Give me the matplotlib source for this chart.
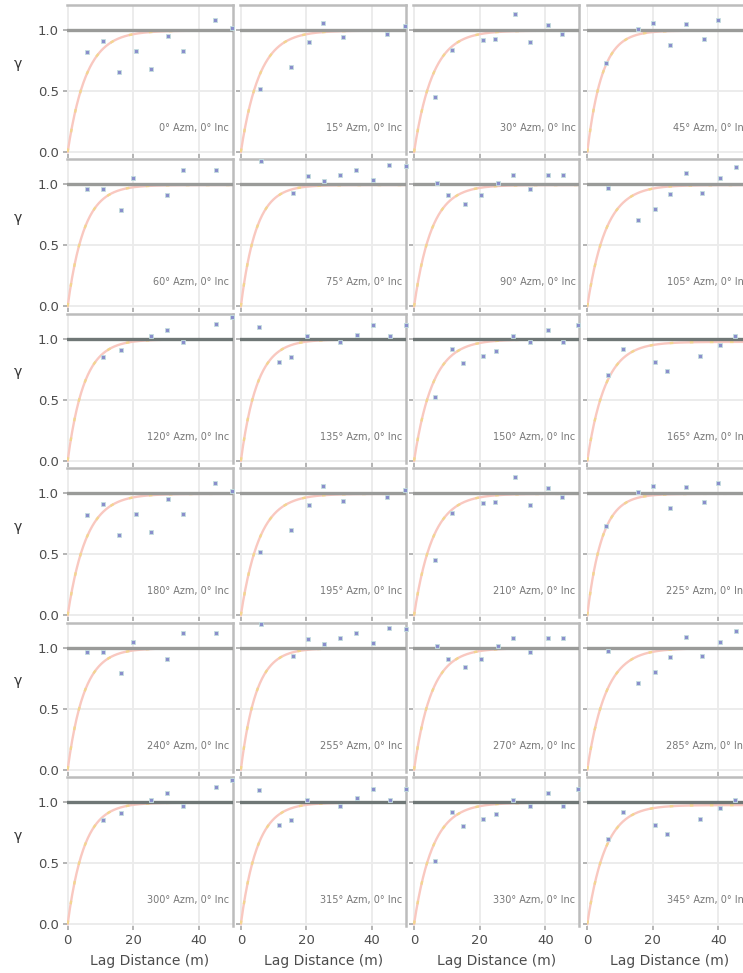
import numpy as np
import matplotlib
matplotlib.use("Agg")
import matplotlib.pyplot as plt

# experimental variogram points, one set per direction (0-165 deg; 180-345 repeat them)
azimuths = [0, 15, 30, 45, 60, 75, 90, 105, 120, 135, 150, 165,
            180, 195, 210, 225, 240, 255, 270, 285, 300, 315, 330, 345]

lags = {
    0:   [6, 10.9, 15.6, 20.7, 25.3, 30.6, 35.2, 44.8, 50.2],
    15:  [5.8, 15.2, 20.8, 24.9, 31, 44.5, 50],
    30:  [6.5, 11.6, 21.1, 24.8, 30.8, 35.4, 40.8, 45],
    45:  [5.6, 15.5, 20, 25.3, 30.2, 35.5, 39.8],
    60:  [6, 10.9, 16.2, 20, 30.2, 35.3, 45.1],
    75:  [6.1, 15.8, 20.4, 25.4, 30.3, 35.1, 40.2, 45.2, 50.3],
    90:  [6.9, 10.3, 15.6, 20.4, 25.5, 30.1, 35.4, 40.8, 45.4],
    105: [6.3, 15.4, 20.5, 25.3, 30.2, 35.1, 40.4, 45.2],
    120: [10.9, 16.2, 25.3, 30.4, 35.3, 45.1, 50.2],
    135: [5.6, 11.7, 15.2, 20.1, 30.3, 35.4, 40.2, 45.6, 50.3],
    150: [6.5, 11.6, 14.8, 21.1, 25, 30.1, 35.2, 40.8, 45.4, 50],
    165: [6.3, 10.9, 20.8, 24.3, 34.5, 40.4, 44.9],
}
gammas = {
    0:   [0.82, 0.91, 0.66, 0.83, 0.68, 0.95, 0.83, 1.08, 1.02],
    15:  [0.52, 0.70, 0.90, 1.06, 0.94, 0.97, 1.03],
    30:  [0.45, 0.84, 0.92, 0.93, 1.13, 0.90, 1.04, 0.97],
    45:  [0.73, 1.01, 1.06, 0.88, 1.05, 0.93, 1.08],
    60:  [0.96, 0.96, 0.79, 1.05, 0.91, 1.12, 1.12],
    75:  [1.19, 0.93, 1.07, 1.03, 1.08, 1.12, 1.04, 1.16, 1.15],
    90:  [1.01, 0.91, 0.84, 0.91, 1.01, 1.08, 0.96, 1.08, 1.08],
    105: [0.97, 0.71, 0.80, 0.92, 1.09, 0.93, 1.05, 1.14],
    120: [0.85, 0.91, 1.02, 1.07, 0.97, 1.12, 1.18],
    135: [1.10, 0.81, 0.85, 1.02, 0.97, 1.03, 1.11, 1.02, 1.11],
    150: [0.52, 0.92, 0.80, 0.86, 0.90, 1.02, 0.97, 1.07, 0.97, 1.11],
    165: [0.70, 0.92, 0.81, 0.74, 0.86, 0.95, 1.02],
}
# exponential model (practical range, sill) per direction
model_range = {0: 17, 15: 17, 30: 17, 45: 13.5, 60: 15, 75: 14,
               90: 16, 105: 17, 120: 15, 135: 15, 150: 17, 165: 16.5}
model_sill = {0: 0.995, 15: 0.995, 30: 0.995, 45: 0.995, 60: 0.995, 75: 0.995,
              90: 0.995, 105: 0.995, 120: 0.995, 135: 0.995, 150: 0.995, 165: 0.975}

W, H = 743, 973
fig = plt.figure(figsize=(W / 100, H / 100), dpi=100)

h = np.linspace(0, 51, 300)
for i, azm in enumerate(azimuths):
    r, c = divmod(i, 4)
    left = 67 + 173.2 * c
    top = 5 + 154.4 * r
    ax = fig.add_axes([left / W, 1 - (top + 149) / H, 166 / W, 149 / H])
    key = azm % 180

    ax.grid(True, color="#ebebeb", lw=1.3, zorder=0)
    ax.set_axisbelow(True)
    sill_col = "#6f7776" if r in (2, 5) else "#9a9b99"
    ax.axhline(1.0, color=sill_col, lw=2.4, zorder=3)

    g = model_sill[key] * (1 - np.exp(-3 * h / model_range[key]))
    ax.plot(h, g, color="#f9c8c0", lw=1.7, zorder=2)
    ax.plot(h, g, color="#f3d68f", lw=1.7, dashes=(1.5, 7), zorder=2)

    ax.plot(lags[key], gammas[key], ls="none", marker="s", ms=3.2,
            mfc="#8a8ecc", mec="#c4dfdf", mew=0.6, zorder=4, clip_on=False)

    ax.text(0.977, 0.175, f"{azm}° Azm, 0° Inc", transform=ax.transAxes,
            ha="right", va="center", fontsize=7, color="#777777")

    ax.set_xlim(-0.2, 50.4)
    ax.set_ylim(-0.016, 1.205)
    ax.set_xticks([0, 20, 40])
    ax.set_yticks([0, 0.5, 1.0])
    ax.set_yticklabels(["0.0", "0.5", "1.0"])
    for s in ("left", "bottom"):
        ax.spines[s].set_visible(False)
    for s in ("top", "right"):
        ax.spines[s].set_color("#bcbcbc")
        ax.spines[s].set_linewidth(1.8)
    ax.tick_params(length=3, width=1.2, color="#a8a8a8", labelsize=9.5,
                   labelcolor="#4d4d4d", pad=3,
                   labelbottom=(r == 5), labelleft=(c == 0))
    if c == 0:
        ax.set_ylabel("γ", rotation=0, fontsize=10, color="#333333")
        ax.yaxis.set_label_coords(-0.295, 0.56)
    if r == 5:
        ax.set_xlabel("Lag Distance (m)", fontsize=10, color="#4d4d4d", labelpad=5)

fig.savefig("out.png", dpi=100)
